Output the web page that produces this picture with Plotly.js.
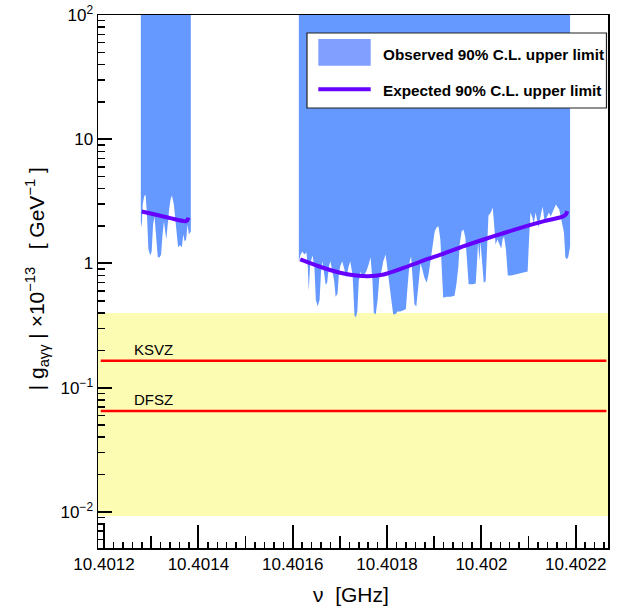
<!DOCTYPE html>
<html><head><meta charset="utf-8">
<script src="https://cdn.plot.ly/plotly-3.0.1.min.js"></script>
<style>html,body{margin:0;padding:0;background:#fff}#chart{width:626px;height:610px}</style>
</head><body><div id="chart"></div>
<script>
// ---- data ----
const obs1X = [10.401278,10.401280,10.401282,10.401285,10.401288,10.401291,10.401294,10.401298,10.401301,10.401304,10.401307,10.401310,10.401314,10.401318,10.401321,10.401324,10.401327,10.401332,10.401335,10.401338,10.401341,10.401344,10.401348,10.401351,10.401354,10.401357,10.401361,10.401365,10.401368,10.401371,10.401374,10.401377,10.401380,10.401384];
const obs1Y = [2.18,1.95,2.98,3.46,3.59,2.48,1.30,1.16,1.25,2.06,2.39,1.71,1.12,1.12,1.18,1.71,2.18,1.56,2.18,2.72,3.27,3.53,2.98,2.18,1.62,1.35,1.40,1.35,1.71,1.50,1.56,2.06,1.71,1.81];

const obs2X = [10.401613,10.401616,10.401620,10.401625,10.401629,10.401632,10.401634,10.401637,10.401642,10.401646,
10.401649,10.401653,10.401657,10.401660,10.401663,10.401667,10.401670,10.401673,10.401677,10.401680,
10.401684,10.401688,10.401691,10.401695,10.401698,10.401701,10.401705,10.401710,10.401714,10.401718,
10.401722,10.401727,10.401731,10.401734,10.401737,10.401740,10.401744,10.401748,10.401752,10.401756,
10.401761,10.401765,10.401769,10.401772,10.401776,10.401780,10.401784,10.401788,10.401792,10.401797,
10.401801,10.401805,10.401809,10.401813,10.401818,10.401822,10.401828,10.401835,10.401840,10.401843,
10.401848,10.401851,10.401854,10.401858,10.401862,10.401867,10.401871,10.401875,10.401879,10.401884,
10.401888,10.401892,10.401896,10.401901,10.401905,10.401909,10.401913,10.401917,10.401919,10.401926,
10.401935,10.401943,10.401947,10.401951,10.401954,10.401958,10.401962,10.401966,10.401970,10.401973,
10.401981,10.401988,10.401991,10.401993,10.401996,10.401998,10.402002,10.402005,10.402009,10.402012,
10.402015,10.402020,10.402024,10.402027,10.402030,10.402034,10.402039,10.402042,10.402045,10.402048,
10.402052,10.402056,10.402063,10.402074,10.402084,10.402094,10.402098,10.402101,10.402104,10.402108,
10.402111,10.402115,10.402118,10.402121,10.402126,10.402130,10.402134,10.402138,10.402143,10.402147,
10.402151,10.402158,10.402162,10.402165,10.402168,10.402172,10.402175,10.402178,10.402181,10.402184,10.402188];
const obs2Y = [1.02,1.16,1.25,1.18,1.23,0.93,0.60,1.00,1.16,0.93,
0.51,0.45,0.51,0.86,1.04,0.83,0.67,0.70,0.96,1.04,
0.89,0.72,0.54,0.57,0.83,0.96,1.04,0.89,0.77,0.93,
1.04,0.80,0.38,0.37,0.41,0.72,0.86,0.77,0.82,0.86,
0.98,1.12,0.74,0.40,0.39,0.51,0.80,0.86,1.04,1.18,
0.89,0.70,0.51,0.39,0.39,0.41,0.41,0.42,0.43,0.62,
1.04,1.14,0.82,0.47,0.45,0.68,1.00,0.89,0.77,0.70,
0.82,1.04,1.30,1.81,1.95,1.99,1.56,0.74,0.53,0.54,
0.54,0.55,0.68,0.93,1.42,1.81,1.88,1.62,0.89,0.68,
0.68,0.69,1.08,1.48,1.04,1.50,0.98,0.70,0.72,1.30,
2.43,2.57,2.82,2.06,1.42,1.56,1.40,1.32,1.56,1.65,
1.30,0.80,0.80,0.82,0.83,0.85,0.86,1.56,2.57,2.35,
2.10,2.57,2.26,1.95,2.48,2.88,2.14,2.35,2.57,2.39,
2.62,2.98,2.82,2.72,2.39,2.06,1.78,1.12,1.08,1.12,1.37];
const obsTop = 1000;   // observed exclusion extends above the frame

const exp1X = [10.401280,10.401308,10.401340,10.401372,10.401376,10.401379];
const exp1Y = [2.62,2.48,2.32,2.19,2.22,2.34];
const exp2X = [10.401616,10.401666,10.401708,10.401758,10.401793,10.401835,10.401878,10.401920,10.401963,10.402005,10.402048,10.402090,10.402133,10.402172,10.402179,10.402182];
const exp2Y = [1.08,0.92,0.83,0.79,0.815,0.92,1.06,1.20,1.38,1.56,1.76,1.97,2.19,2.38,2.48,2.64];

const bandX = [10.40118, 10.40228];
const bandLow = 0.0093, bandHigh = 0.40;
const modelX = [10.401193, 10.402265];
const ksvz = 0.165, dfsz = 0.065;

const xRange = [10.4011872, 10.4022684];
const yRange = [-2.29, 2];
const xTickVals = [10.4012, 10.4014, 10.4016, 10.4018, 10.402, 10.4022];
const xTickText = ["10.4012", "10.4014", "10.4016", "10.4018", "10.402", "10.4022"];
const xMidTicks = [10.4013, 10.4015, 10.4017, 10.4019, 10.4021];
const xSmallStep = 0.00002;
const yTickVals = [0.01, 0.1, 1, 10, 100];
const yTickText = ["10<sup>\u22122</sup>", "10<sup>\u22121</sup>", "1", "10", "10<sup>2</sup>"];
const yMinor = [0.006,0.007,0.008,0.009,0.02,0.03,0.04,0.05,0.06,0.07,0.08,0.09,0.2,0.3,0.4,0.5,0.6,0.7,0.8,0.9,2,3,4,5,6,7,8,9,20,30,40,50,60,70,80,90];

// ---- build ----
function poly(xs, ys) {
  return { x: xs.concat([xs[xs.length - 1], xs[0], xs[0]]), y: ys.concat([obsTop, obsTop, ys[0]]) };
}
const BLUE = '#6699ff', PURPLE = '#6600ff', RED = '#ff0000', YEL = '#fcfcb2';
const p1 = poly(obs1X, obs1Y), p2 = poly(obs2X, obs2Y);
const base = { mode: 'lines', hoverinfo: 'skip', showlegend: false };
const ghost = { mode: 'markers', marker: { opacity: 0, size: 1 }, hoverinfo: 'skip', showlegend: false };
const traces = [
  Object.assign({}, base, { x: bandX, y: [bandLow, bandLow], line: { width: 0 } }),
  Object.assign({}, base, { x: bandX, y: [bandHigh, bandHigh], line: { width: 0 }, fill: 'tonexty', fillcolor: YEL }),
  Object.assign({}, base, { x: modelX, y: [ksvz, ksvz], line: { color: RED, width: 2.5 } }),
  Object.assign({}, base, { x: modelX, y: [dfsz, dfsz], line: { color: RED, width: 2.5 } }),
  Object.assign({}, base, { x: p1.x, y: p1.y, fill: 'toself', fillcolor: BLUE, line: { width: 0 } }),
  Object.assign({}, base, { x: p2.x, y: p2.y, fill: 'toself', fillcolor: BLUE, line: { width: 0 } }),
  Object.assign({}, base, { x: exp1X, y: exp1Y, line: { color: PURPLE, width: 4, shape: 'spline', smoothing: 0.8 } }),
  Object.assign({}, base, { x: exp2X, y: exp2Y, line: { color: PURPLE, width: 4, shape: 'spline', smoothing: 0.8 } }),
  Object.assign({}, ghost, { x: [xTickVals[1]], y: [1], xaxis: 'x2', yaxis: 'y' }),
  Object.assign({}, ghost, { x: [xTickVals[1]], y: [1], xaxis: 'x3', yaxis: 'y' }),
  Object.assign({}, ghost, { x: [xTickVals[1]], y: [1], xaxis: 'x', yaxis: 'y2' })
];

const FONT = 'Liberation Sans, Arial, Helvetica, sans-serif';
const tickAxis = { showticklabels: false, showline: false, showgrid: false, zeroline: false, ticks: 'inside', tickcolor: 'black' };
const layout = {
  width: 626, height: 610,
  margin: { l: 98, r: 18, t: 15, b: 62 },
  paper_bgcolor: 'white', plot_bgcolor: 'white',
  showlegend: false,
  font: { family: FONT, color: 'black' },
  xaxis: {
    range: xRange, tickmode: 'array', tickvals: xTickVals, ticktext: xTickText,
    ticks: 'inside', ticklen: 23, tickwidth: 2, tickcolor: 'black',
    showline: true, linecolor: 'black', linewidth: 1.5, mirror: true,
    showgrid: false, zeroline: false, tickfont: { size: 17, family: FONT }
  },
  xaxis2: Object.assign({}, tickAxis, { overlaying: 'x', anchor: 'y', side: 'bottom', range: xRange,
    tickmode: 'array', tickvals: xMidTicks, ticklen: 12, tickwidth: 1.5 }),
  xaxis3: Object.assign({}, tickAxis, { overlaying: 'x', anchor: 'y', side: 'bottom', range: xRange,
    tickmode: 'linear', tick0: xTickVals[0], dtick: xSmallStep, ticklen: 6, tickwidth: 1.5 }),
  yaxis: {
    type: 'log', range: yRange, tickmode: 'array', tickvals: yTickVals, ticktext: yTickText,
    ticks: 'inside', ticklen: 14, tickwidth: 2, tickcolor: 'black',
    showline: true, linecolor: 'black', linewidth: 1.5, mirror: true,
    showgrid: false, zeroline: false, tickfont: { size: 17, family: FONT }
  },
  yaxis2: Object.assign({}, tickAxis, { overlaying: 'y', anchor: 'x', side: 'left', type: 'log', range: yRange,
    tickmode: 'array', tickvals: yMinor, ticklen: 7, tickwidth: 1.5 }),
  shapes: [
    { type: 'rect', xref: 'paper', yref: 'paper', x0: 0.4098, x1: 0.997, y0: 0.8255, y1: 0.9662, fillcolor: 'white', line: { color: '#222', width: 1.2 }, layer: 'above' },
    { type: 'rect', xref: 'paper', yref: 'paper', x0: 0.4320, x1: 0.5347, y0: 0.9049, y1: 0.955, fillcolor: '#809fff', line: { width: 0 }, layer: 'above' },
    { type: 'line', xref: 'paper', yref: 'paper', x0: 0.4320, x1: 0.5347, y0: 0.8606, y1: 0.8606, line: { color: PURPLE, width: 4 }, layer: 'above' }
  ],
  annotations: [
    { text: 'Observed 90% C.L. upper limit', xref: 'paper', yref: 'paper', x: 0.5543, y: 0.925, xanchor: 'left', yanchor: 'middle', showarrow: false, font: { size: 15.3, family: FONT, weight: 'bold' } },
    { text: 'Expected 90% C.L. upper limit', xref: 'paper', yref: 'paper', x: 0.5543, y: 0.858, xanchor: 'left', yanchor: 'middle', showarrow: false, font: { size: 15.3, family: FONT, weight: 'bold' } },
    { text: 'KSVZ', xref: 'paper', yref: 'paper', x: 0.066, y: 0.3715, xanchor: 'left', yanchor: 'middle', showarrow: false, font: { size: 15, family: FONT } },
    { text: 'DFSZ', xref: 'paper', yref: 'paper', x: 0.066, y: 0.2795, xanchor: 'left', yanchor: 'middle', showarrow: false, font: { size: 15, family: FONT } },
    { text: '\u03bd\u00a0\u00a0[GHz]', xref: 'paper', yref: 'paper', x: 0.496, y: -0.088, xanchor: 'center', yanchor: 'middle', showarrow: false, font: { size: 21, family: FONT } },
    { text: '|\u00a0g<sub>a\u03b3\u03b3</sub>\u00a0|\u00a0\u00d710<sup>\u221213</sup>\u00a0\u00a0\u00a0[\u00a0GeV<sup>\u22121</sup>\u00a0]', xref: 'paper', yref: 'paper', x: -0.12, y: 0.5056, xanchor: 'center', yanchor: 'middle', textangle: -90, showarrow: false, font: { size: 21, family: FONT } }
  ]
};

Plotly.newPlot('chart', traces, layout, { staticPlot: true, displayModeBar: false });
</script></body></html>
